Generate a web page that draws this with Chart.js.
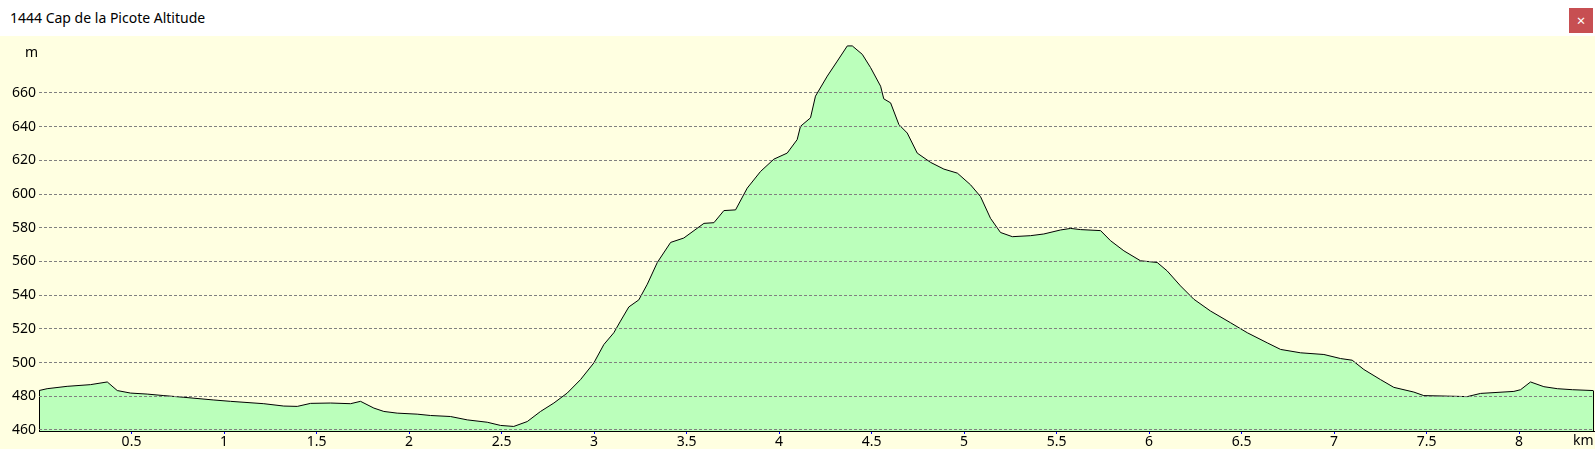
<!DOCTYPE html>
<html>
<head>
<meta charset="utf-8">
<title>1444 Cap de la Picote Altitude</title>
<script src="https://cdn.jsdelivr.net/npm/chart.js@4.4.1/dist/chart.umd.min.js"></script>
<style>
  body { margin: 0; width: 1595px; height: 449px; overflow: hidden; background: #fff; font-family: "Noto Sans", "Open Sans", sans-serif; }
  #title { position: absolute; left: 10px; top: 8px; font-size: 14px; color: #000; }
  #close { position: absolute; left: 1569px; top: 8px; width: 24px; height: 25px; background: #c74f52; color: #fff; font-size: 15px; text-align: center; line-height: 24px; }
  #plot { position: absolute; left: 0; top: 36px; width: 1595px; height: 413px; background: #ffffe1; }
  .unit { position: absolute; font-size: 14px; color: #000; }
</style>
</head>
<body>
<div id="title">1444 Cap de la Picote Altitude</div>
<div id="close">×</div>
<div id="plot"><canvas id="profile" width="1595" height="413"></canvas></div>
<div class="unit" style="left:25px; top:42px;">m</div>
<div class="unit" style="left:1573px; top:430px;">km</div>
<script>
// distance along the track (km) and altitude (m)
const distKm = [
  0.0, 0.044, 0.152, 0.278, 0.369, 0.423, 0.495, 0.585, 0.675, 0.783,
  0.945, 1.035, 1.215, 1.323, 1.396, 1.468, 1.576, 1.684, 1.738, 1.810,
  1.864, 1.936, 2.044, 2.116, 2.224, 2.315, 2.423, 2.495, 2.566, 2.639,
  2.711, 2.783, 2.855, 2.927, 2.999, 3.053, 3.107, 3.143, 3.188, 3.242,
  3.288, 3.342, 3.414, 3.485, 3.594, 3.648, 3.702, 3.765, 3.828, 3.900,
  3.972, 4.044, 4.098, 4.116, 4.170, 4.197, 4.261, 4.315, 4.369, 4.396,
  4.450, 4.495, 4.549, 4.566, 4.603, 4.648, 4.693, 4.747, 4.819, 4.891,
  4.964, 5.035, 5.089, 5.143, 5.197, 5.261, 5.359, 5.431, 5.522, 5.576,
  5.630, 5.738, 5.792, 5.864, 5.954, 6.044, 6.098, 6.170, 6.242, 6.332,
  6.441, 6.531, 6.639, 6.711, 6.819, 6.945, 7.035, 7.098, 7.161, 7.251,
  7.323, 7.431, 7.485, 7.612, 7.720, 7.792, 7.972, 8.008, 8.062, 8.134,
  8.207, 8.289, 8.400
];
const altitudeM = [
  483.4, 484.5, 485.9, 486.9, 488.5, 483.4, 481.9, 481.3, 480.4, 479.4,
  477.8, 477.0, 475.6, 474.2, 474.0, 475.8, 476.0, 475.6, 477.0, 473.0,
  471.0, 470.0, 469.4, 468.6, 468.0, 466.0, 464.6, 462.7, 462.1, 465.0,
  471.0, 476.0, 481.9, 489.9, 499.8, 510.7, 517.7, 524.6, 533.0, 537.2,
  546.5, 559.4, 571.3, 573.9, 582.6, 583.0, 590.2, 590.6, 603.5, 613.4,
  620.7, 624.3, 632.3, 640.2, 645.2, 658.1, 670.0, 678.9, 687.9, 687.9,
  682.9, 675.0, 664.0, 656.5, 654.1, 641.2, 636.2, 624.3, 618.8, 614.8,
  612.4, 605.5, 598.5, 585.6, 577.2, 574.7, 575.3, 576.3, 578.7, 579.6,
  578.9, 578.3, 572.3, 566.3, 560.4, 559.4, 554.4, 545.5, 537.6, 530.6,
  523.6, 517.7, 511.7, 507.8, 505.8, 504.8, 502.4, 501.4, 495.9, 489.9,
  485.3, 482.5, 480.4, 480.1, 479.8, 481.7, 482.9, 483.9, 488.5, 485.7,
  484.5, 483.9, 483.4
];
const xTicks = [0.5, 1, 1.5, 2, 2.5, 3, 3.5, 4, 4.5, 5, 5.5, 6, 6.5, 7, 7.5, 8];
const yTicks = [460, 480, 500, 520, 540, 560, 580, 600, 620, 640, 660];

// closes the filled area with vertical edges at both ends, like the original
const edgePlugin = {
  id: 'edges',
  afterDatasetsDraw(chart) {
    const pts = chart.getDatasetMeta(0).data;
    const bottom = chart.chartArea.bottom;
    const ctx = chart.ctx;
    ctx.save();
    ctx.strokeStyle = '#000';
    ctx.lineWidth = 1;
    ctx.beginPath();
    [pts[0], pts[pts.length - 1]].forEach(p => {
      const x = Math.round(p.x) + 0.5;
      ctx.moveTo(x, p.y);
      ctx.lineTo(x, bottom);
    });
    ctx.stroke();
    ctx.restore();
  }
};

const tickFont = { family: '"Noto Sans", "Open Sans", sans-serif', size: 14 };

new Chart(document.getElementById('profile'), {
  type: 'line',
  data: {
    datasets: [{
      data: distKm.map((d, i) => ({ x: d, y: altitudeM[i] })),
      borderColor: '#000',
      borderWidth: 1,
      backgroundColor: '#bbffbb',
      fill: 'start',
      pointRadius: 0,
      tension: 0
    }]
  },
  options: {
    responsive: false,
    animation: false,
    layout: { padding: { left: 0, right: 1, top: 3, bottom: 0 } },
    plugins: { legend: { display: false }, tooltip: { enabled: false } },
    scales: {
      x: {
        type: 'linear',
        min: 0,
        max: 8.405,
        afterBuildTicks: scale => { scale.ticks = xTicks.map(v => ({ value: v })); },
        afterFit: scale => { scale.height = 18; scale.paddingLeft = 0; scale.paddingRight = 0; },
        grid: { drawOnChartArea: false, drawTicks: true, tickLength: 3, color: '#0000ff' },
        border: { display: true, color: '#000', width: 1, z: 1 },
        ticks: { color: '#000', font: tickFont, padding: 0, maxRotation: 0, autoSkip: false, callback: v => String(v) }
      },
      y: {
        min: 459.4,
        max: 692,
        afterBuildTicks: scale => { scale.ticks = yTicks.map(v => ({ value: v })); },
        afterFit: scale => { scale.width = 39; scale.paddingTop = 0; scale.paddingBottom = 0; },
        grid: { color: '#808080', drawTicks: false, z: 1 },
        border: { display: false, dash: [3, 2] },
        ticks: { color: '#000', font: tickFont, padding: 3, callback: v => String(v) }
      }
    }
  },
  plugins: [edgePlugin]
});
</script>
</body>
</html>
